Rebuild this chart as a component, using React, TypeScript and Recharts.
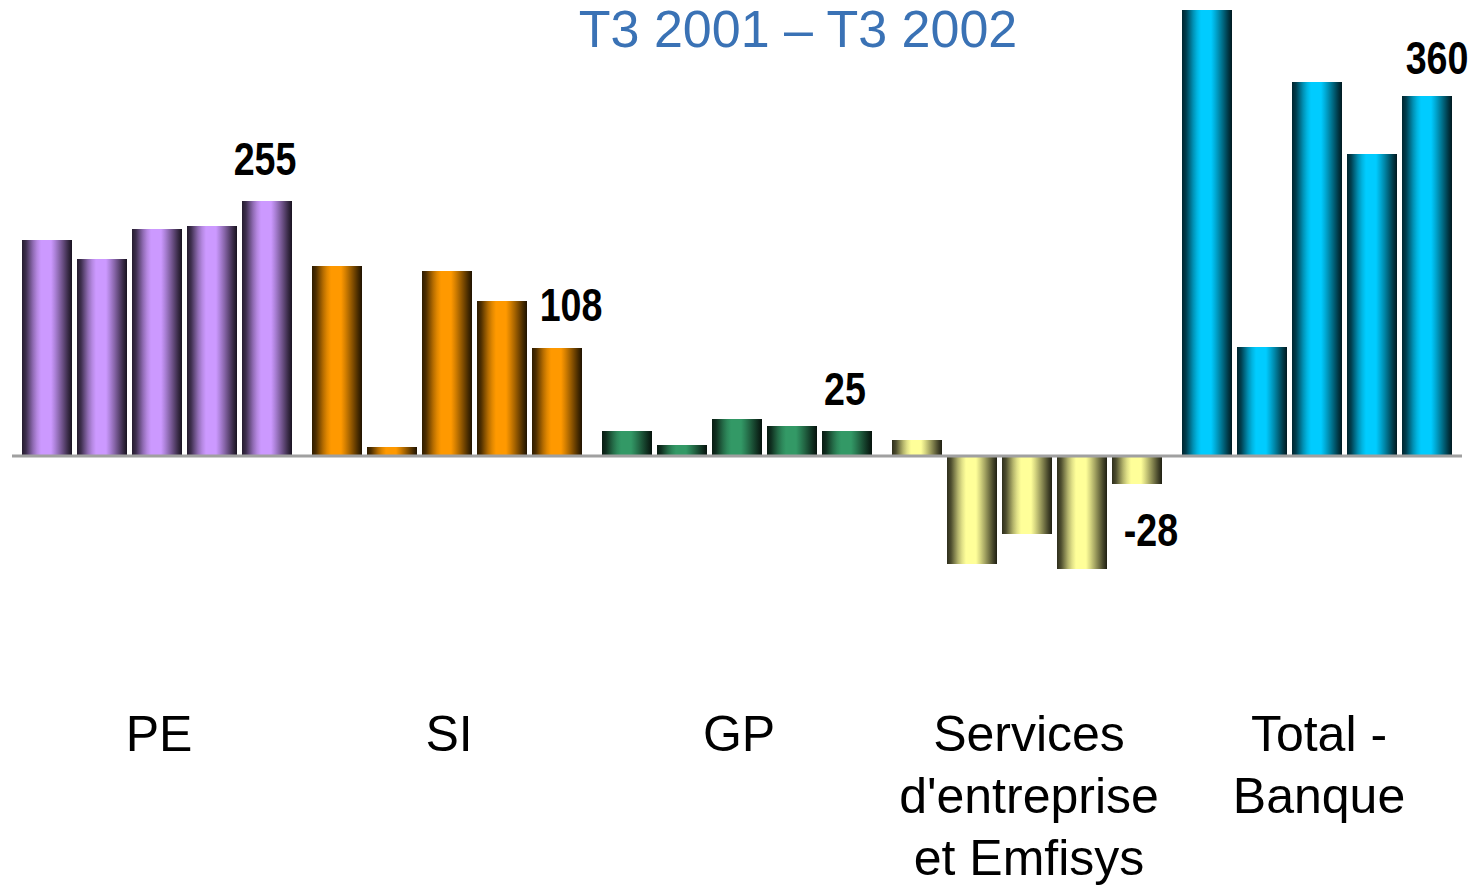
import { Bar, BarChart, Cell, LabelList, ReferenceLine, XAxis, YAxis } from "recharts";

const quarters = ["T3 2001", "T4 2001", "T1 2002", "T2 2002", "T3 2002"];
const categoryLines = [
  ["PE"],
  ["SI"],
  ["GP"],
  ["Services", "d'entreprise", "et Emfisys"],
  ["Total -", "Banque"],
];

const peValues = [216, 197, 227, 230, 255];
const siValues = [190, 9, 185, 155, 108];
const gpValues = [25, 11, 37, 30, 25];
const servicesValues = [16, -108, -78, -113, -28];
const totalValues = [446, 109, 374, 302, 360];

const groupValues = [peValues, siValues, gpValues, servicesValues, totalValues];
const groupColors = ["#CC99FF", "#FF9900", "#339966", "#FFFF99", "#00CCFF"];

// label nudges for the last quarter, per group (dx, distance from bar end)
const labelNudge = [
  { dx: -2, dy: 26 },
  { dx: 14, dy: 27 },
  { dx: -2, dy: 26 },
  { dx: 14, dy: 62 },
  { dx: 10, dy: 22 },
];

const data = categoryLines.map((lines, i) => {
  const row: any = { name: lines.join(" "), idx: i };
  quarters.forEach((_, q) => {
    row["q" + q] = groupValues[i][q];
  });
  return row;
});

// darken a hex colour towards black
function shade(hex: string, f: number) {
  const n = parseInt(hex.slice(1), 16);
  const r = Math.round(((n >> 16) & 255) * f);
  const g = Math.round(((n >> 8) & 255) * f);
  const b = Math.round((n & 255) * f);
  return "rgb(" + r + "," + g + "," + b + ")";
}

const stops: [number, number][] = [
  [0, 0.18],
  [0.08, 0.3],
  [0.15, 0.5],
  [0.22, 0.7],
  [0.3, 0.88],
  [0.38, 1],
  [0.58, 1],
  [0.66, 0.85],
  [0.75, 0.66],
  [0.84, 0.46],
  [0.92, 0.28],
  [1, 0.12],
];

const CategoryTick = (props: any) => {
  const { x, y, payload } = props;
  const lines = categoryLines[payload.index] ?? [String(payload.value)];
  return (
    <text
      x={x + 2}
      y={y}
      textAnchor="middle"
      fontFamily="'Liberation Sans', Arial, sans-serif"
      fontSize={50}
      fill="#000"
    >
      {lines.map((line, i) => (
        <tspan key={i} x={x + 2} dy={i === 0 ? 45 : 62}>
          {line}
        </tspan>
      ))}
    </text>
  );
};

// condensed bold look: squeeze a regular bold face horizontally
const ValueLabel = (props: any) => {
  const vb = props.viewBox ?? props;
  const { x, y, width, height } = vb;
  const idx = props.index;
  const value = Number(props.value);
  const nudge = labelNudge[idx];
  const top = Math.min(y, y + height);
  const bottom = Math.max(y, y + height);
  const cx = x + width / 2 + nudge.dx;
  const cy = value >= 0 ? top - nudge.dy : bottom + nudge.dy;
  return (
    <text
      x={0}
      y={0}
      transform={`translate(${cx} ${cy}) scale(0.8 1)`}
      textAnchor="middle"
      fontFamily="'Liberation Sans', Arial, sans-serif"
      fontWeight="bold"
      fontSize={47}
      fill="#000"
    >
      {value}
    </text>
  );
};

export default function App() {
  return (
    <div style={{ position: "absolute", left: 0, top: 0, background: "#fff" }}>
      <BarChart
        width={1480}
        height={885}
        data={data}
        margin={{ top: 6, right: 18, bottom: 0, left: 12 }}
        barGap={5}
      >
        <defs>
          {groupColors.map((c, i) => (
            <linearGradient key={i} id={"bar-grad-" + i} x1="0" y1="0" x2="1" y2="0">
              {stops.map(([o, f], k) => (
                <stop key={k} offset={o} stopColor={shade(c, f)} />
              ))}
            </linearGradient>
          ))}
        </defs>
        <text
          x={798}
          y={47}
          textAnchor="middle"
          fontFamily="'Liberation Sans', Arial, sans-serif"
          fontSize={52}
          fill="#3A72B5"
        >
          T3 2001 – T3 2002
        </text>
        <XAxis
          dataKey="name"
          axisLine={false}
          tickLine={false}
          tickSize={0}
          tickMargin={0}
          interval={0}
          height={179}
          tick={<CategoryTick />}
        />
        <YAxis hide type="number" domain={[-250, 450]} allowDataOverflow />
        <ReferenceLine y={0} stroke="#A0A0A0" strokeWidth={3} />
        {quarters.map((q, qi) => (
          <Bar key={q} dataKey={"q" + qi} name={q} barSize={50} isAnimationActive={false}>
            {data.map((_, i) => (
              <Cell key={i} fill={"url(#bar-grad-" + i + ")"} />
            ))}
            {qi === quarters.length - 1 && (
              <LabelList dataKey={"q" + qi} content={<ValueLabel />} />
            )}
          </Bar>
        ))}
      </BarChart>
    </div>
  );
}
